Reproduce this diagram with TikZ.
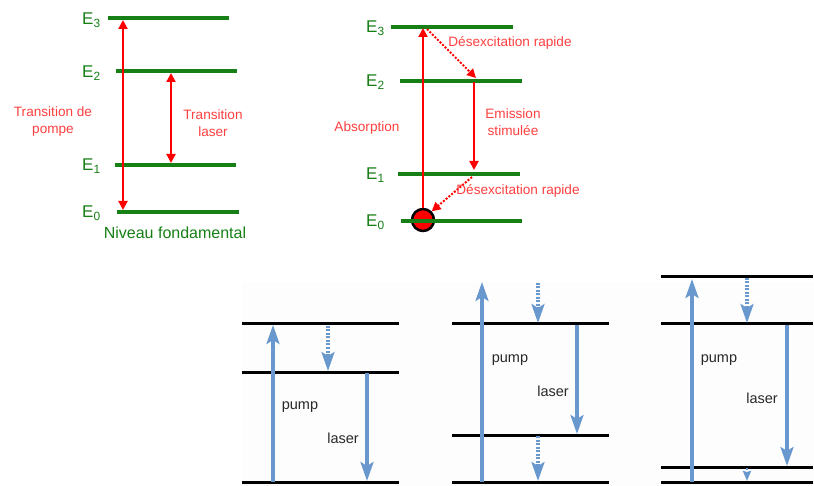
\documentclass[tikz,border=0pt]{standalone}
\usepackage{fontspec}
\setmainfont{Liberation Sans}
\usetikzlibrary{arrows.meta}
\definecolor{lvlgreen}{RGB}{22,128,22}
\definecolor{txtred}{RGB}{255,64,64}
\definecolor{arrred}{RGB}{255,0,0}
\definecolor{pblue}{RGB}{104,152,206}
\definecolor{panelbg}{RGB}{253,253,253}
\definecolor{txtgray}{RGB}{40,40,40}
\begin{document}
\begin{tikzpicture}[x=1pt,y=-1pt,
  level/.style={lvlgreen, line width=3.2pt},
  blevel/.style={black, line width=3pt},
  elabel/.style={lvlgreen, font=\fontsize{17}{19}\selectfont, anchor=base west, inner sep=0pt},
  redtext/.style={txtred, font=\fontsize{13.6}{17}\selectfont, align=center, inner sep=0pt},
  bluetext/.style={txtgray, font=\fontsize{14.5}{16}\selectfont, inner sep=0pt},
  rdouble/.style={arrred, line width=2pt, {Triangle[length=9pt,width=9pt]}-{Triangle[length=9pt,width=9pt]}},
  rsingle/.style={arrred, line width=2pt, -{Triangle[length=9pt,width=9pt]}},
  rdotted/.style={arrred, line width=2pt, dash pattern=on 2pt off 1.6pt, -{Triangle[length=9pt,width=9pt]}},
  bsolid/.style={pblue, line width=3.2pt, -{Stealth[length=19pt,width=13pt,inset=4pt]}},
  bdotted/.style={pblue, line width=3.2pt, dash pattern=on 2pt off 1.5pt, -{Stealth[length=19pt,width=13pt,inset=4pt]}},
  bsmall/.style={pblue, line width=2.4pt, dash pattern=on 2pt off 1.5pt, -{Stealth[length=10pt,width=8pt,inset=1pt]}}
]
\useasboundingbox (0,0) rectangle (814,486);
\fill[white] (0,0) rectangle (814,486);
\fill[panelbg] (242,282) rectangle (814,486);

% ---------- Diagram 1 ----------
\draw[level] (108,18) -- (229,18);
\draw[level] (116,71) -- (237,71);
\draw[level] (115,165) -- (236,165);
\draw[level] (117,212) -- (239,212);
\node[elabel] (a3) at (82,25) {E\textsubscript{3}};
\node[elabel] (a2) at (82,78) {E\textsubscript{2}};
\node[elabel] (a1) at (82,171) {E\textsubscript{1}};
\node[elabel] (a0) at (82,218) {E\textsubscript{0}};
\coordinate (p1t) at (123,20);
\coordinate (p1b) at (123,210);
\coordinate (l1t) at (171,73);
\coordinate (l1b) at (171,163);
\draw[rdouble] (p1b) -- (p1t);
\draw[rdouble] (l1b) -- (l1t);
\node[redtext] (tp) at (53,121) {Transition de\\pompe};
\node[redtext] (tl) at (213,123) {Transition\\laser};
\node[lvlgreen, font=\fontsize{16}{18}\selectfont, inner sep=0pt] (nf) at (175,233) {Niveau fondamental};

% ---------- Diagram 2 ----------
\node[circle, draw=black, line width=2.5pt, fill=arrred, minimum size=22pt, inner sep=0pt] (atom) at (423,220) {};
\draw[level] (391,27) -- (513,27);
\draw[level] (400,81) -- (522,81);
\draw[level] (398,174) -- (520,174);
\draw[level] (401,221) -- (522,221);
\node[elabel] (b3) at (366,33) {E\textsubscript{3}};
\node[elabel] (b2) at (366,87) {E\textsubscript{2}};
\node[elabel] (b1) at (366,180) {E\textsubscript{1}};
\node[elabel] (b0) at (366,227) {E\textsubscript{0}};
\coordinate (abst) at (423,28);
\coordinate (d1s) at (427,29);
\coordinate (d1e) at (476,78);
\coordinate (emt) at (474,82);
\coordinate (emb) at (474,170);
\coordinate (d2s) at (472,177);
\draw[rsingle] (atom.north) -- (abst);
\draw[rdotted] (d1s) -- (d1e);
\draw[rsingle] (emt) -- (emb);
\draw[rdotted] (d2s) -- (atom.north east);
\node[redtext] (dr1) at (510,43) {Désexcitation rapide};
\node[redtext] (dr2) at (518,191) {Désexcitation rapide};
\node[redtext] (es) at (513,122) {Emission\\stimulée};
\node[redtext] (ab) at (367,128) {Absorption};

% ---------- Panel 3 ----------
\draw[blevel] (242,324) -- (399,324);
\draw[blevel] (242,372) -- (399,372);
\draw[blevel] (242,482) -- (399,482);
\coordinate (c3pb) at (273,482);
\coordinate (c3pt) at (273,325);
\coordinate (c3dt) at (328,326);
\coordinate (c3db) at (328,371);
\coordinate (c3lt) at (367,373);
\coordinate (c3lb) at (367,481);
\draw[bsolid] (c3pb) -- (c3pt);
\draw[bdotted] (c3dt) -- (c3db);
\draw[bsolid] (c3lt) -- (c3lb);
\node[bluetext] (c3p) at (300,407) {pump};
\node[bluetext] (c3l) at (343,438) {laser};

% ---------- Panel 4 ----------
\draw[blevel] (452,324) -- (609,324);
\draw[blevel] (452,435) -- (609,435);
\draw[blevel] (452,482) -- (609,482);
\coordinate (c4pb) at (482,482);
\coordinate (c4pt) at (482,282);
\coordinate (c4dt) at (538,283);
\coordinate (c4db) at (538,323);
\coordinate (c4lt) at (577,325);
\coordinate (c4lb) at (577,434);
\coordinate (c4et) at (538,436);
\coordinate (c4eb) at (538,481);
\draw[bsolid] (c4pb) -- (c4pt);
\draw[bdotted] (c4dt) -- (c4db);
\draw[bsolid] (c4lt) -- (c4lb);
\draw[bdotted] (c4et) -- (c4eb);
\node[bluetext] (c4p) at (510,360) {pump};
\node[bluetext] (c4l) at (553,391) {laser};

% ---------- Panel 5 ----------
\draw[blevel] (661,277) -- (813,277);
\draw[blevel] (661,324) -- (813,324);
\draw[blevel] (661,467) -- (813,467);
\draw[blevel] (661,482) -- (813,482);
\coordinate (c5pb) at (692,482);
\coordinate (c5pt) at (692,279);
\coordinate (c5dt) at (747,278);
\coordinate (c5db) at (747,323);
\coordinate (c5lt) at (787,325);
\coordinate (c5lb) at (787,466);
\coordinate (c5et) at (747,468);
\coordinate (c5eb) at (747,481);
\draw[bsolid] (c5pb) -- (c5pt);
\draw[bdotted] (c5dt) -- (c5db);
\draw[bsolid] (c5lt) -- (c5lb);
\draw[bsmall] (c5et) -- (c5eb);
\node[bluetext] (c5p) at (719,360) {pump};
\node[bluetext] (c5l) at (762,398) {laser};
\end{tikzpicture}
\end{document}
